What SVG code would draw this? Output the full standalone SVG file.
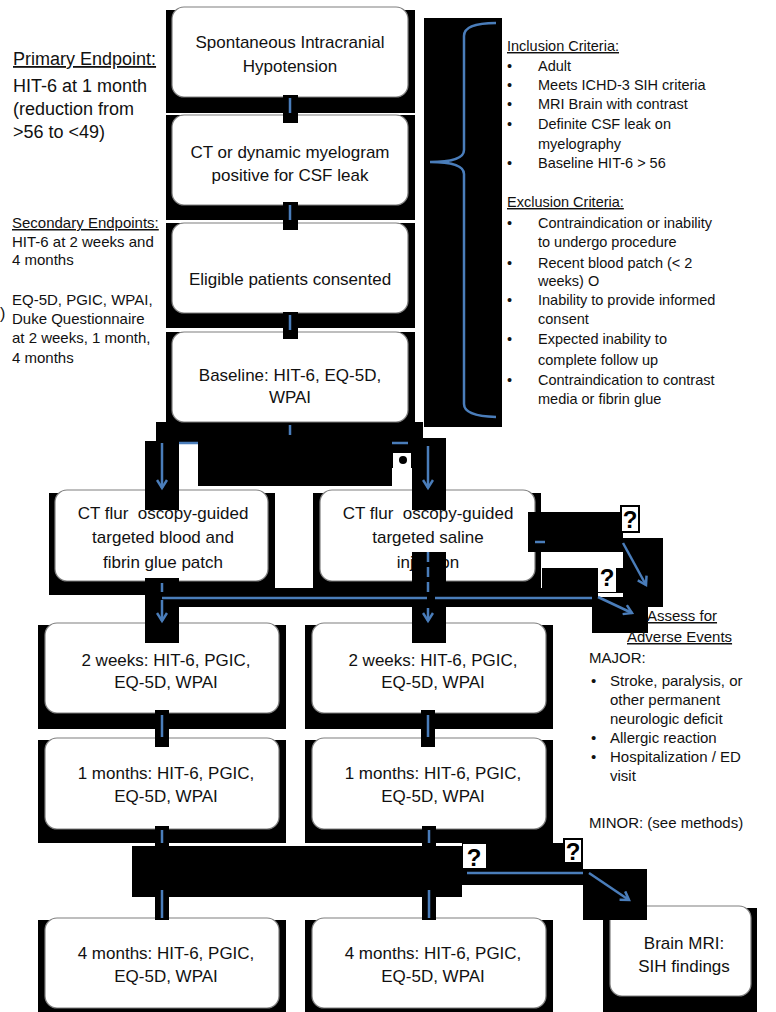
<svg xmlns="http://www.w3.org/2000/svg" width="776" height="1012" viewBox="0 0 776 1012">
<defs>
<style>
.blk{fill:#000}
.node{fill:#fff;stroke:#7f7f7f;stroke-width:1.2}
.t{font-family:"Liberation Sans",Arial,sans-serif;fill:#111}
.bx{font-size:17px;text-anchor:middle}
.sm{font-size:15px}
.xs{font-size:14.5px}
.u{text-decoration:underline}
.c{stroke:#4a7dba;stroke-width:2.5;fill:none}
.ca{marker-end:url(#ah)}
.q{font-family:"Liberation Sans",Arial,sans-serif;font-weight:bold;font-size:24px;text-anchor:middle;fill:#000}
</style>
<marker id="ah" markerWidth="12" markerHeight="12" refX="9" refY="6" orient="auto" markerUnits="userSpaceOnUse"><path d="M1,1 L9,6 L1,11" fill="none" stroke="#4a7dba" stroke-width="2.5"/></marker>
</defs>
<rect width="776" height="1012" fill="#fff"/>

<g id="shadows">
<rect class="blk" x="166" y="10" width="249" height="103"/>
<rect class="blk" x="166" y="115" width="249" height="105"/>
<rect class="blk" x="166" y="223" width="249" height="105"/>
<rect class="blk" x="166" y="332" width="249" height="90"/>
<rect class="blk" x="156" y="422" width="267" height="20"/>
<rect class="blk" x="424" y="18" width="78" height="409"/>
<rect class="blk" x="49" y="493" width="226" height="102"/>
<rect class="blk" x="313" y="493" width="228" height="102"/>
<rect class="blk" x="38" y="625" width="248" height="104"/>
<rect class="blk" x="38" y="740" width="248" height="103"/>
<rect class="blk" x="38" y="920" width="248" height="92"/>
<rect class="blk" x="305" y="625" width="248" height="104"/>
<rect class="blk" x="305" y="740" width="248" height="103"/>
<rect class="blk" x="305" y="920" width="248" height="92"/>
<rect class="blk" x="603" y="908" width="154" height="104"/>
</g>

<g id="n1"><rect class="node" x="172" y="7" width="236" height="90" rx="12"/>
<text class="t bx" x="290" y="48">Spontaneous Intracranial</text><text class="t bx" x="290" y="72">Hypotension</text></g>
<g id="n2"><rect class="node" x="172" y="115" width="236" height="90" rx="12"/>
<text class="t bx" x="290" y="158">CT or dynamic myelogram</text><text class="t bx" x="290" y="181">positive for CSF leak</text></g>
<g id="n3"><rect class="node" x="172" y="223" width="236" height="90" rx="12"/>
<text class="t bx" x="290" y="285">Eligible patients consented</text></g>
<g id="n4"><rect class="node" x="172" y="332" width="236" height="90" rx="12"/>
<text class="t bx" x="290" y="381">Baseline: HIT-6, EQ-5D,</text><text class="t bx" x="290" y="403">WPAI</text></g>
<g id="n5"><rect class="node" x="55" y="490" width="213" height="91" rx="12"/>
<text class="t bx" x="163" y="519" xml:space="preserve">CT flur  oscopy-guided</text><text class="t bx" x="163" y="543">targeted blood and</text><text class="t bx" x="163" y="568">fibrin glue patch</text></g>
<g id="n6"><rect class="node" x="320" y="490" width="215" height="91" rx="12"/>
<text class="t bx" x="428" y="519" xml:space="preserve">CT flur  oscopy-guided</text><text class="t bx" x="428" y="543">targeted saline</text><text class="t bx" x="428" y="568">injection</text></g>
<g id="n7"><rect class="node" x="45" y="623" width="234" height="90" rx="12"/>
<text class="t bx" x="166" y="666">2 weeks: HIT-6, PGIC,</text><text class="t bx" x="166" y="688">EQ-5D, WPAI</text></g>
<g id="n8"><rect class="node" x="45" y="738" width="234" height="91" rx="12"/>
<text class="t bx" x="166" y="779">1 months: HIT-6, PGIC,</text><text class="t bx" x="166" y="802">EQ-5D, WPAI</text></g>
<g id="n9"><rect class="node" x="45" y="918" width="234" height="90" rx="12"/>
<text class="t bx" x="166" y="959">4 months: HIT-6, PGIC,</text><text class="t bx" x="166" y="982">EQ-5D, WPAI</text></g>
<g id="n10"><rect class="node" x="312" y="623" width="234" height="90" rx="12"/>
<text class="t bx" x="433" y="666">2 weeks: HIT-6, PGIC,</text><text class="t bx" x="433" y="688">EQ-5D, WPAI</text></g>
<g id="n11"><rect class="node" x="312" y="738" width="234" height="91" rx="12"/>
<text class="t bx" x="433" y="779">1 months: HIT-6, PGIC,</text><text class="t bx" x="433" y="802">EQ-5D, WPAI</text></g>
<g id="n12"><rect class="node" x="312" y="918" width="234" height="90" rx="12"/>
<text class="t bx" x="433" y="959">4 months: HIT-6, PGIC,</text><text class="t bx" x="433" y="982">EQ-5D, WPAI</text></g>
<g id="n13"><rect class="node" x="610" y="906" width="141" height="90" rx="12"/>
<text class="t bx" x="684" y="949">Brain MRI:</text><text class="t bx" x="684" y="972">SIH findings</text></g>

<g id="occluders">
<rect class="blk" x="283" y="95" width="15" height="28"/>
<rect class="blk" x="283" y="202" width="15" height="28"/>
<rect class="blk" x="283" y="312" width="15" height="27"/>
<rect class="blk" x="157" y="423" width="266" height="19"/>
<rect class="blk" x="198" y="442" width="194" height="44"/>
<rect class="blk" x="145" y="441" width="34" height="69"/>
<rect class="blk" x="412" y="438" width="34" height="72"/>
<rect class="blk" x="392" y="442" width="20" height="26"/>
<rect fill="#fff" x="393" y="453" width="18" height="15"/>
<circle cx="403" cy="460" r="4" fill="#000"/>
<rect class="blk" x="145" y="578" width="34" height="65"/>
<rect class="blk" x="162" y="588" width="436" height="19"/>
<rect class="blk" x="412" y="552" width="34" height="91"/>
<rect class="blk" x="528" y="512" width="95" height="40"/>
<rect class="blk" x="542" y="568" width="81" height="25"/>
<rect class="blk" x="623" y="538" width="40" height="69"/>
<rect class="blk" x="592" y="597" width="56" height="36"/>
<rect class="blk" x="155" y="710" width="14" height="37"/>
<rect class="blk" x="421" y="710" width="14" height="37"/>
<rect class="blk" x="155" y="826" width="14" height="20"/>
<rect class="blk" x="422" y="826" width="14" height="20"/>
<rect class="blk" x="155" y="895" width="14" height="25"/>
<rect class="blk" x="422" y="895" width="14" height="25"/>
<rect class="blk" x="132" y="846" width="330" height="51"/>
<rect class="blk" x="462" y="843" width="121" height="42"/>
<rect class="blk" x="583" y="869" width="64" height="51"/>
</g>

<g id="connectors">
<path class="c" d="M290,98 V113 M290,205 V220 M290,315 V330 M290,425 V435"/>
<path class="c" d="M179,443 H198 M392,443 H408"/>
<path class="c ca" d="M162,443 V488"/>
<path class="c ca" d="M428,446 V488"/>
<path class="c" d="M162,583 V592 M162,598 H427 M435,598 H592"/>
<path class="c" d="M428,552 V592" stroke-dasharray="10 5"/>
<path class="c ca" d="M162,600 V621"/>
<path class="c ca" d="M428,608 V621"/>
<path class="c" d="M535,542 H545"/>
<path class="c ca" d="M623,543 L646,585"/>
<path class="c ca" d="M598,597 L632,613"/>
<path class="c" d="M162,715 V737 M428,715 V737"/>
<path class="c" d="M162,830 V843 M162,890 V918 M429,830 V843 M429,890 V918"/>
<path class="c" d="M467,873 H583"/>
<path class="c ca" d="M589,873 L629,900"/>
<path class="c" d="M496,23 Q464,23 464,36 L464,150 Q464,162 430,162 Q464,162 464,174 L464,404 Q464,416 496,417"/>
</g>

<g id="glyphs">
<rect x="621" y="506" width="18" height="26" fill="#fff" stroke="#000" stroke-width="2"/>
<text class="q" x="630" y="528">?</text>
<rect x="598" y="561" width="18" height="31" fill="#fff"/>
<text class="q" x="607" y="586">?</text>
<rect x="463" y="844" width="23" height="24" fill="#fff"/>
<text class="q" x="474" y="866" font-size="28">?</text>
<rect x="564" y="839" width="18" height="24" fill="#fff" stroke="#000" stroke-width="2"/>
<text class="q" x="573" y="860">?</text>
</g>

<g id="notes">
<text class="t u" x="13" y="65" font-size="18">Primary Endpoint:</text>
<text class="t" x="13" y="92" font-size="18">HIT-6 at 1 month</text>
<text class="t" x="13" y="115" font-size="18">(reduction from</text>
<text class="t" x="13" y="138" font-size="18">&gt;56 to &lt;49)</text>
<text class="t" x="0" y="319" font-size="16">)</text>
<text class="t sm u" x="12" y="228">Secondary Endpoints:</text>
<text class="t sm" x="12" y="247">HIT-6 at 2 weeks and</text>
<text class="t sm" x="12" y="265">4 months</text>
<text class="t sm" x="12" y="305">EQ-5D, PGIC, WPAI,</text>
<text class="t sm" x="12" y="324">Duke Questionnaire</text>
<text class="t sm" x="12" y="343">at 2 weeks, 1 month,</text>
<text class="t sm" x="12" y="363">4 months</text>

<text class="t xs u" x="507" y="51">Inclusion Criteria:</text>
<g class="t xs">
<text x="507" y="71">•</text><text x="538" y="71">Adult</text>
<text x="507" y="90">•</text><text x="538" y="90">Meets ICHD-3 SIH criteria</text>
<text x="507" y="109">•</text><text x="538" y="109">MRI Brain with contrast</text>
<text x="507" y="129">•</text><text x="538" y="129">Definite CSF leak on</text>
<text x="538" y="149">myelography</text>
<text x="507" y="168">•</text><text x="538" y="168">Baseline HIT-6 &gt; 56</text>
</g>
<text class="t xs u" x="507" y="207">Exclusion Criteria:</text>
<g class="t xs">
<text x="507" y="228">•</text><text x="538" y="228">Contraindication or inability</text>
<text x="538" y="247">to undergo procedure</text>
<text x="507" y="268">•</text><text x="538" y="268">Recent blood patch (&lt; 2</text>
<text x="538" y="286">weeks) O</text>
<text x="507" y="305">•</text><text x="538" y="305">Inability to provide informed</text>
<text x="538" y="324">consent</text>
<text x="507" y="344">•</text><text x="538" y="344">Expected inability to</text>
<text x="538" y="365">complete follow up</text>
<text x="507" y="385">•</text><text x="538" y="385">Contraindication to contrast</text>
<text x="538" y="404">media or fibrin glue</text>
</g>

<text class="t sm u" x="647" y="621">Assess for</text>
<text class="t sm u" x="627" y="642">Adverse Events</text>
<g class="t sm">
<text x="589" y="663">MAJOR:</text>
<text x="591" y="686">•</text><text x="610" y="686">Stroke, paralysis, or</text>
<text x="610" y="705">other permanent</text>
<text x="610" y="724">neurologic deficit</text>
<text x="591" y="743">•</text><text x="610" y="743">Allergic reaction</text>
<text x="591" y="762">•</text><text x="610" y="762">Hospitalization / ED</text>
<text x="610" y="781">visit</text>
<text x="589" y="828">MINOR: (see methods)</text>
</g>
</g>
</svg>
